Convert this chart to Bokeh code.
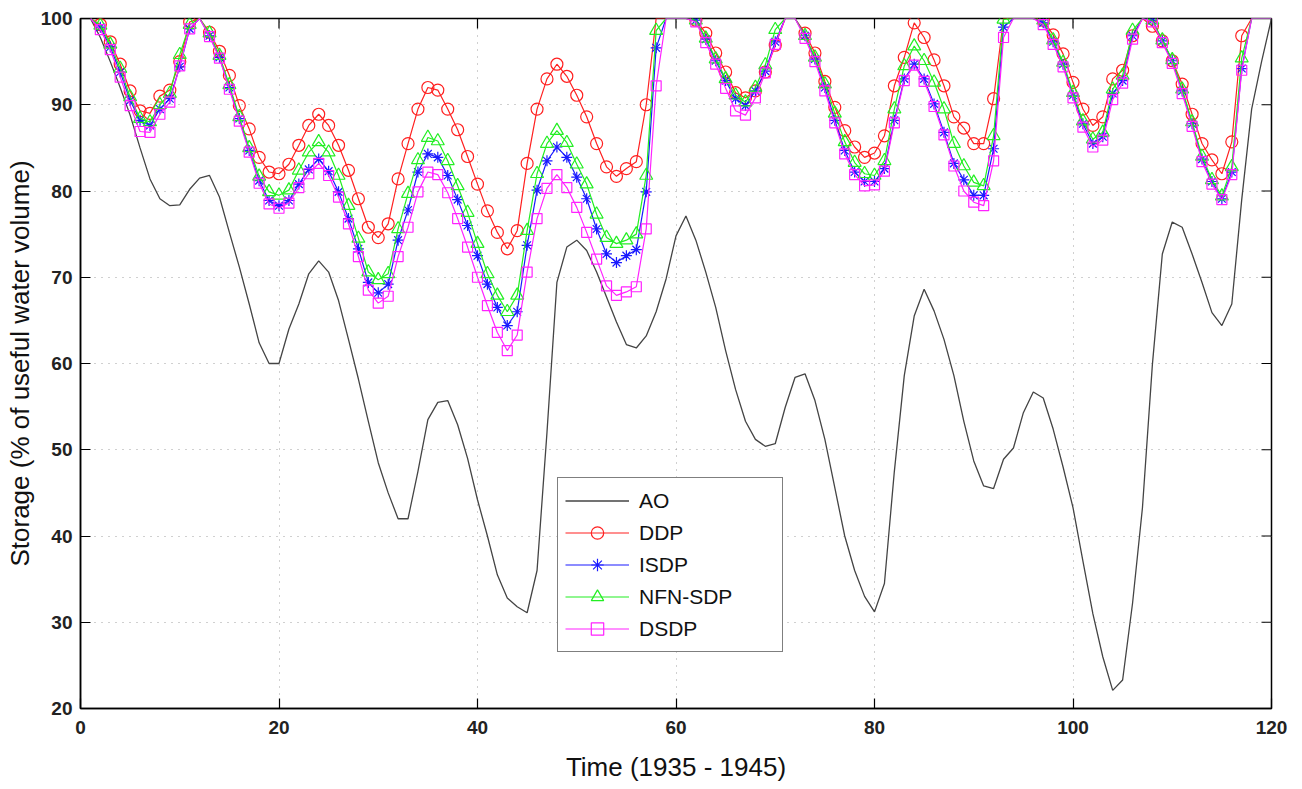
import numpy as np
from bokeh.plotting import figure
from bokeh.models import Range1d, FixedTicker, Legend, LegendItem, ColumnDataSource
from bokeh.embed import file_html
from bokeh.resources import INLINE

# ---------------- data ----------------
x_ao = list(range(0, 121))
ao = [100, 100, 97.8, 95.0, 92.0, 88.8, 85.0, 81.4, 79.1, 78.3, 78.4,
      80.2, 81.5, 81.8, 79.3, 75.2, 71.2, 66.9, 62.4, 60.0, 60.0,
      64.0, 66.9, 70.4, 71.9, 70.6, 67.3, 62.8, 58.2, 53.3, 48.5,
      45.0, 42.0, 42.0, 47.5, 53.5, 55.5, 55.7, 52.9, 49.0, 44.2,
      40.0, 35.5, 32.8, 31.8, 31.1, 36.0, 52.0, 69.4, 73.5, 74.3,
      73.1, 70.6, 67.7, 64.8, 62.2, 61.8, 63.2, 66.0, 69.8, 74.8,
      77.1, 74.3, 70.6, 66.5, 61.5, 57.0, 53.3, 51.2, 50.4, 50.7,
      54.9, 58.4, 58.8, 55.7, 51.2, 45.6, 40.0, 36.0, 33.0, 31.2,
      34.5, 47.5, 58.6, 65.5, 68.6, 66.1, 62.8, 58.6, 53.3, 48.7,
      45.8, 45.5, 48.9, 50.2, 54.3, 56.7, 56.0, 52.4, 48.0, 43.3,
      37.1, 31.0, 26.0, 22.1, 23.3, 32.2, 43.3, 59.9, 72.7, 76.4,
      75.8, 72.7, 69.4, 65.9, 64.4, 66.9, 79.0, 89.5, 95.0, 100]

x_m = list(range(1, 121))
ddp = [100, 99.3, 97.3, 94.7, 91.6, 89.3, 89.0, 91.0, 91.7, 95.0,
       99.6, 100, 98.4, 96.2, 93.4, 89.9, 87.2, 83.9, 82.2, 82.0,
       83.1, 85.3, 87.6, 88.9, 87.6, 85.3, 82.4, 79.1, 75.8, 74.6,
       76.2, 81.4, 85.5, 89.5, 92.0, 91.7, 89.5, 87.1, 84.0, 80.8,
       77.7, 75.2, 73.3, 75.4, 83.2, 89.5, 93.0, 94.7, 93.3, 91.1,
       88.6, 85.5, 82.8, 81.7, 82.6, 83.4, 90.0, 100, 100, 100,
       100, 99.8, 98.3, 96.0, 93.8, 91.4, 90.8, 91.6, 93.8, 96.9,
       100, 100, 98.3, 96.0, 92.7, 89.7, 87.0, 85.1, 83.9, 84.4,
       86.4, 92.2, 95.5, 99.5, 97.8, 95.2, 92.2, 88.6, 87.3, 85.5,
       85.5, 90.7, 100, 100, 100, 100, 99.8, 98.1, 95.9, 92.6,
       89.5, 87.6, 88.6, 93.0, 94.0, 98.0, 100, 99.1, 97.4, 95.1,
       92.4, 88.9, 85.5, 83.6, 82.0, 85.7, 98.0, 100, 100, 100]
isdp = [100, 99.0, 96.7, 93.8, 90.5, 88.2, 87.6, 89.5, 90.7, 94.4,
        98.8, 100, 98.0, 95.5, 92.0, 88.4, 84.7, 81.2, 78.9, 78.3,
        78.9, 80.8, 82.5, 83.7, 82.3, 79.9, 76.8, 73.3, 69.4, 68.2,
        69.2, 74.3, 77.8, 82.2, 84.3, 83.9, 81.8, 79.0, 76.0, 72.5,
        69.2, 66.5, 64.4, 66.0, 73.7, 80.1, 83.5, 85.1, 83.9, 81.6,
        79.1, 75.6, 72.7, 71.7, 72.5, 73.2, 79.9, 96.6, 100, 100,
        100, 99.8, 97.6, 95.1, 92.8, 90.7, 89.9, 91.6, 93.9, 97.3,
        100, 100, 98.0, 95.3, 92.0, 88.2, 84.7, 82.2, 81.1, 81.1,
        82.6, 88.2, 93.0, 94.7, 93.0, 90.1, 86.8, 83.2, 81.3, 79.5,
        79.5, 84.9, 99.0, 100, 100, 100, 99.5, 97.3, 94.7, 91.1,
        87.8, 85.5, 86.3, 91.3, 92.8, 98.0, 100, 99.8, 97.4, 95.1,
        91.6, 87.8, 83.7, 81.1, 79.1, 82.2, 94.2, 100, 100, 100]
nfn_sdp = [100, 99.2, 97.0, 94.2, 90.9, 88.4, 88.0, 90.0, 91.3, 95.8,
           99.3, 100, 98.3, 95.7, 92.3, 88.6, 85.0, 81.7, 79.9, 79.5,
           80.1, 82.4, 84.5, 85.7, 84.5, 81.8, 78.3, 74.5, 70.6, 69.7,
           70.4, 75.6, 79.7, 83.6, 86.2, 85.8, 83.5, 80.6, 77.5, 73.9,
           70.4, 67.9, 66.0, 67.9, 75.4, 82.0, 85.5, 87.0, 85.6, 83.1,
           80.8, 77.3, 74.6, 73.9, 74.3, 75.0, 81.8, 98.6, 100, 100,
           100, 99.8, 97.7, 95.3, 93.0, 91.1, 90.3, 92.0, 94.6, 98.7,
           100, 100, 98.0, 95.5, 92.4, 89.0, 85.7, 83.3, 82.0, 81.8,
           83.5, 89.5, 94.5, 96.8, 95.1, 92.6, 89.5, 85.5, 82.9, 81.0,
           80.6, 86.4, 99.9, 100, 100, 100, 99.8, 97.5, 94.9, 91.4,
           88.1, 86.0, 86.8, 91.8, 93.4, 98.6, 100, 99.8, 97.5, 95.2,
           91.8, 88.0, 84.0, 81.3, 79.4, 82.8, 95.4, 100, 100, 100]
dsdp = [100, 98.7, 96.4, 93.2, 89.9, 86.9, 86.8, 88.9, 90.3, 94.5,
        98.8, 100, 97.9, 95.4, 91.8, 88.1, 84.5, 80.9, 78.5, 78.0,
        78.6, 80.4, 82.0, 83.2, 81.8, 79.3, 76.2, 72.4, 68.5, 67.0,
        67.8, 72.4, 75.8, 79.9, 82.2, 81.9, 79.8, 76.8, 73.5, 70.0,
        66.7, 63.6, 61.5, 63.3, 70.6, 76.8, 80.3, 81.9, 80.4, 78.1,
        75.2, 72.1, 69.0, 67.9, 68.3, 68.9, 75.6, 92.2, 100, 100,
        100, 99.6, 97.2, 94.7, 91.9, 89.3, 88.8, 90.8, 93.7, 97.0,
        100, 100, 97.7, 95.0, 91.6, 87.9, 84.3, 81.9, 80.6, 80.7,
        82.3, 87.9, 92.8, 94.6, 92.7, 89.8, 86.5, 82.9, 80.0, 78.7,
        78.3, 83.5, 97.8, 100, 100, 100, 99.3, 97.0, 94.4, 90.8,
        87.4, 85.1, 85.9, 90.6, 92.5, 97.6, 100, 99.6, 97.2, 94.8,
        91.3, 87.5, 83.4, 80.8, 79.0, 81.9, 94.0, 100, 100, 100]

x_ticks = [0, 20, 40, 60, 80, 100, 120]
y_ticks = [20, 30, 40, 50, 60, 70, 80, 90, 100]
X_MIN, X_MAX, Y_MIN, Y_MAX = 0, 120, 20, 100

FONT = "Liberation Sans"

# ---------------- figure ----------------
p = figure(width=1294, height=788, output_backend="svg", toolbar_location=None,
           x_range=Range1d(X_MIN, X_MAX), y_range=Range1d(Y_MIN, Y_MAX),
           min_border_left=80, min_border_top=18, min_border_right=23,
           min_border_bottom=80)
p.background_fill_color = "white"
p.border_fill_color = "white"
p.outline_line_color = "black"
p.outline_line_width = 1.5

for ax in (p.xaxis[0], p.yaxis[0]):
    ax.major_tick_in = 10
    ax.major_tick_out = 0
    ax.minor_tick_line_color = None
    ax.axis_line_color = "black"
    ax.axis_line_width = 1.5
    ax.major_tick_line_color = "black"
    ax.major_tick_line_width = 1.2
    ax.major_label_text_font = FONT
    ax.major_label_text_font_style = "bold"
    ax.major_label_text_font_size = "19px"
    ax.major_label_text_color = "#222222"
    ax.axis_label_text_font = FONT
    ax.axis_label_text_font_style = "normal"
    ax.axis_label_text_font_size = "26px"
    ax.axis_label_text_color = "#111111"

p.xaxis[0].ticker = FixedTicker(ticks=x_ticks)
p.yaxis[0].ticker = FixedTicker(ticks=y_ticks)
p.xaxis[0].axis_label = "Time (1935 - 1945)"
p.yaxis[0].axis_label = "Storage (% of useful water volume)"
p.xaxis[0].major_label_standoff = 12
p.xaxis[0].axis_label_standoff = 15
p.yaxis[0].major_label_standoff = 8
p.yaxis[0].axis_label_standoff = 3

# mirrored inward ticks on the top and right edges (clipped to frame)
p.scatter(x_ticks, [Y_MAX] * len(x_ticks), marker="dash", angle=np.pi / 2,
          size=20, line_color="black", line_width=1.2)
p.scatter([X_MAX] * len(y_ticks), y_ticks, marker="dash", angle=0,
          size=20, line_color="black", line_width=1.2)

p.xgrid.ticker = FixedTicker(ticks=x_ticks)
p.ygrid.ticker = FixedTicker(ticks=y_ticks)
p.grid.grid_line_color = "#a0a0a0"
p.grid.grid_line_dash = "1 6"
p.grid.grid_line_width = 1

# ---------------- series ----------------
r_ao = p.line(x_ao, ao, line_color="#444444", line_width=1.3)

items = [LegendItem(label="AO", renderers=[r_ao])]

specs = [("DDP", ddp, "#ff2020", "circle", 12),
         ("ISDP", isdp, "#1a1aff", "asterisk", 11),
         ("NFN-SDP", nfn_sdp, "#22ee22", "triangle", 13),
         ("DSDP", dsdp, "#ff22ff", "square", 10)]

xm = np.array(x_m)
for name, vals, col, mk, sz in specs:
    v = np.array(vals)
    rl = p.line(xm, v, line_color=col, line_width=1.2)
    mask = v < Y_MAX
    src = ColumnDataSource(dict(x=xm[mask], y=v[mask]))
    rs = p.scatter("x", "y", source=src, marker=mk, size=sz, line_color=col,
                   fill_color=None, line_width=1.2)
    items.append(LegendItem(label=name, renderers=[rl, rs]))

legend = Legend(items=items, location=(477, 56))
legend.label_text_font = FONT
legend.label_text_font_size = "21px"
legend.label_text_color = "#111111"
legend.glyph_width = 64
legend.glyph_height = 31
legend.label_height = 31
legend.label_width = 136
legend.label_standoff = 10
legend.spacing = 1
legend.padding = 7
legend.margin = 0
legend.border_line_color = "black"
legend.border_line_width = 1.5
legend.background_fill_color = "white"
legend.background_fill_alpha = 1.0
p.add_layout(legend)

open("out.html", "w").write(file_html(p, INLINE))
